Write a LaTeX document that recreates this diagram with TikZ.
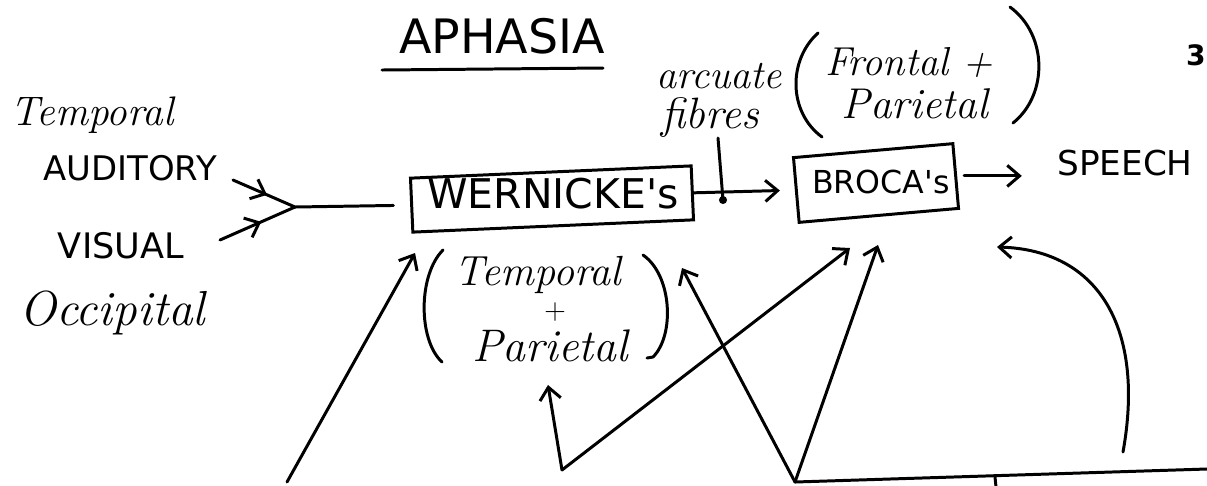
\documentclass[tikz,border=0pt]{standalone}
\usepackage{fontspec}
\newfontfamily\blockfont{DejaVu Sans}
\usetikzlibrary{arrows.meta,decorations.markings}

\begin{document}
\begin{tikzpicture}[x=0.02cm, y=-0.02cm,
  ink/.style={line width=1.7pt, line cap=round, line join=round},
  barb/.style={-{Straight Barb[length=7pt,width=12pt]}},
  midbarb/.style={postaction={decorate}, decoration={markings,
      mark=at position 0.55 with {\arrow{Straight Barb[length=7pt,width=12pt]}}}},
  block/.style={inner sep=0pt, anchor=base, font=\blockfont\fontsize{#1}{#1}\selectfont},
  hand/.style={inner sep=0pt, anchor=base, font=\itshape\fontsize{#1}{#1}\selectfont},
  areabox/.style={draw, line width=1.7pt, inner sep=0pt},
]
\useasboundingbox (0,0) rectangle (1207,485);
\fill[white] (0,0) rectangle (1207,485);

% heading
\node[block=27] (title) at (502,53) {APHASIA};
\draw[ink] (382,70) -- (603,68);

% sensory inputs
\node[hand=23.5] (tempin) at (92,125) {Temporal};
\node[block=19.3] (auditory) at (130,180) {AUDITORY};
\node[block=20] (visual) at (121,258) {VISUAL};
\node[hand=28] (occipital) at (112,325) {Occipital};

\coordinate (audin) at (233,180);
\coordinate (visin) at (220,240);
\coordinate (J) at (295,207);

% speech areas
\node[areabox, minimum width=5.62cm, minimum height=1.08cm, rotate=2.5] (werbox) at (552,199) {};
\node[block=23.3] (wer) at (553,208) {WERNICKE's};
\node[areabox, minimum width=3.2cm, minimum height=1.3cm, rotate=5] (brobox) at (876,183) {};
\node[block=18] (bro) at (881,193) {BROCA's};
\node[block=19.5] (speech) at (1125,175) {SPEECH};

% arcuate fibres
\node[hand=23] (arc1) at (719,88) {arcuate};
\node[hand=25] (arc2) at (710,128) {fibres};
\coordinate (arcTop) at (718,138);
\coordinate (arcDot) at (723,200);

% lobes
\node[hand=23] (fr1) at (909,75) {Frontal +};
\node[hand=24.5] (fr2) at (915,118) {Parietal};
\node[hand=24] (tp1) at (538,285) {Temporal};
\node[inner sep=0pt, font=\fontsize{17}{17}\selectfont] (tp2) at (555,312) {+};
\node[hand=26] (tp3) at (550,361) {Parietal};

% page number
\node[inner sep=0pt, anchor=base east, font=\blockfont\bfseries\fontsize{16}{16}\selectfont] (pg) at (1206,65) {3};

% pathway
\draw[ink, midbarb] (audin) -- (J);
\draw[ink, midbarb] (visin) -- (J);
\draw[ink, shorten >=9.6pt] (J) -- (werbox.west);
\draw[ink, barb, shorten >=8.5pt] (werbox.east) -- (brobox.west);
\draw[ink, barb, shorten <=4pt, shorten >=20pt] (brobox.east) -- (speech.west |- brobox.east);
\draw[ink] (arcTop) -- (arcDot);
\fill (arcDot) circle (2.3pt);

% brackets
\draw[ink] (818,33) .. controls (788,60) and (788,112) .. (822,137);
\draw[ink] (1010,7) .. controls (1048,35) and (1048,95) .. (1013,123);
\draw[ink] (443,250) .. controls (418,275) and (418,340) .. (442,362);
\draw[ink] (643,255) .. controls (672,275) and (675,335) .. (653,357) -- (647,358);

% lesion arrows
\coordinate (a1s) at (287,482);
\coordinate (a1t) at (415,253);
\coordinate (v1) at (562,470);
\coordinate (v1u) at (548,385);
\coordinate (v1r) at (850,248);
\coordinate (v2) at (795,482);
\coordinate (v2l) at (682,268);
\coordinate (v2r) at (878,245);
\coordinate (cs) at (1123,452);
\coordinate (ct) at (997,247);
\coordinate (baseR) at (1207,469);
\coordinate (tickT) at (995,477);
\coordinate (tickB) at (996,487);

\draw[ink, barb] (a1s) -- (a1t);
\draw[ink, barb] (v1) -- (v1u);
\draw[ink, barb] (v1) -- (v1r);
\draw[ink, barb] (v2) -- (v2l);
\draw[ink, barb] (v2) -- (v2r);
\draw[ink, barb] (cs) .. controls (1145,330) and (1100,250) .. (ct);
\draw[ink] (v2) -- (baseR);
\draw[ink] (tickT) -- (tickB);
\end{tikzpicture}
\end{document}
